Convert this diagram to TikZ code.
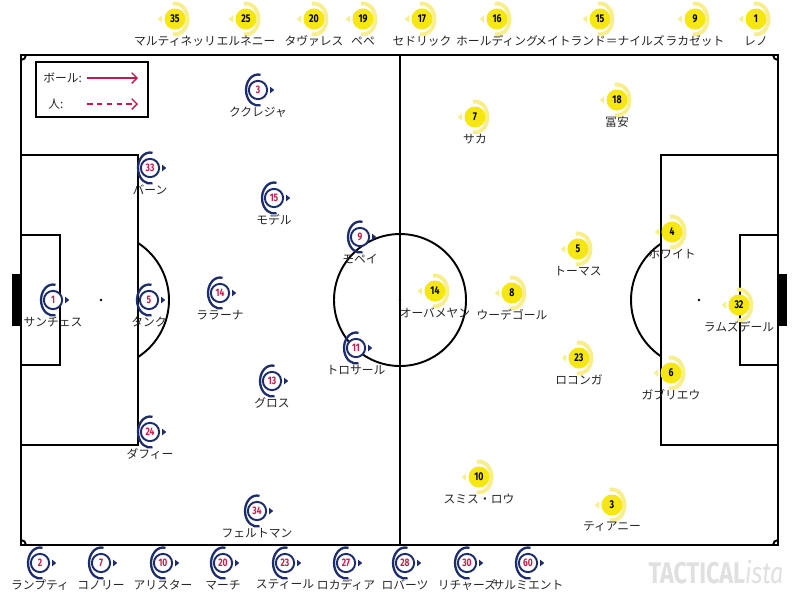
\documentclass[tikz,border=0pt]{standalone}
\usepackage{fontspec}
\setmainfont{Noto Sans CJK JP}
\newfontfamily\numfont[FakeStretch=0.78]{Fira Sans}
\usetikzlibrary{arrows.meta}
\definecolor{navyblue}{HTML}{1C2C6C}
\definecolor{crimson}{HTML}{C41E4A}
\definecolor{lemon}{HTML}{F6E612}
\definecolor{paleyellow}{HTML}{F8EF8C}
\definecolor{arrowred}{HTML}{C8164A}
\tikzset{
	btok/.style={circle, draw=navyblue, fill=white, line width=1.1pt, minimum size=10.4pt, inner sep=0pt, text=crimson, font=\numfont\bfseries\fontsize{6.2}{6}\selectfont},
	ytok/.style={circle, fill=lemon, minimum size=12pt, inner sep=0pt, text=black, font=\numfont\bfseries\fontsize{6.4}{6}\selectfont},
	pname/.style={font=\fontsize{6.7}{7}\selectfont, text=black!85, inner sep=0pt},
	pitchline/.style={line width=1.1pt, color=black}
}
\def\brighton(#1,#2)#3#4{%
	\node[btok] (b#3) at (#1,#2) {#3};
	\draw[navyblue, line width=1.3pt] (b#3.center) ++(78:12 and 15.5) arc (78:282:12 and 15.5);
	\fill[navyblue] (b#3.center) ++(12,-3.4) -- ++(4.2,3.4) -- ++(-4.2,3.4) -- cycle;
	\node[pname] (bn#3) at (#1,#2+22) {#4};
}
\def\arsenal(#1,#2)#3#4{%
	\draw[paleyellow, line width=2.2pt] (#1,#2) ++(100:12.5 and 15.5) arc (100:-100:12.5 and 15.5);
	\fill[paleyellow] (#1,#2) ++(-13,-3.6) -- ++(-4.2,3.6) -- ++(4.2,3.6) -- cycle;
	\node[ytok] (y#3) at (#1,#2) {#3};
	\node[pname] (yn#3) at (#1,#2+22) {#4};
}

\begin{document}
\begin{tikzpicture}[x=0.02cm, y=-0.02cm]
			%%%%% START %%%%%
			\useasboundingbox (0,0) rectangle (800,600);
			\fill[white] (0,0) rectangle (800,600);
			
			% pitch
			\draw[pitchline] (21,55) rectangle (778,545);
			\draw[pitchline] (400,55) -- (400,545);
			\draw[pitchline] (400,300) circle (66);
			\fill (400,300) circle (1.3);
			
			\draw[pitchline] (21,155) rectangle (138,445);
			\draw[pitchline] (21,235) rectangle (60,365);
			\fill (101,300) circle (1.3);
			\draw[pitchline] (101,300) ++(-57:68) arc (-57:57:68);
			\fill[black] (12,274) rectangle (21,326);
			
			\draw[pitchline] (661,155) rectangle (778,445);
			\draw[pitchline] (740,235) rectangle (778,365);
			\fill (699,300) circle (1.3);
			\draw[pitchline] (699,300) ++(124:68) arc (124:236:68);
			\fill[black] (778,274) rectangle (787,326);
			
			\draw[pitchline] (26,55) arc (0:90:5);
			\draw[pitchline] (773,55) arc (180:90:5);
			\draw[pitchline] (26,545) arc (0:-90:5);
			\draw[pitchline] (773,545) arc (180:270:5);
			
			% key
			\draw[pitchline] (36,62) rectangle (148,117);
			\node[pname, anchor=west] (ballkey) at (43,78) {ボール:};
			\coordinate (ballA) at (87,78);
			\coordinate (ballB) at (138,78);
			\draw[arrowred, line width=0.8pt, -{Straight Barb[length=3pt, width=6pt]}] (ballA) -- (ballB);
			\node[pname, anchor=west] (mankey) at (48,104) {人:};
			\coordinate (manA) at (87,104);
			\coordinate (manB) at (138,104);
			\draw[arrowred, line width=0.8pt, dash pattern=on 3.2pt off 2.4pt, -{Straight Barb[length=3pt, width=6pt]}] (manA) -- (manB);
			
			% brighton
			\brighton(258,90){3}{ククレジャ}
			\brighton(150,168){33}{バーン}
			\brighton(274,198){15}{モデル}
			\brighton(360,237){9}{モペイ}
			\brighton(53,300){1}{サンチェス}
			\brighton(149,300){5}{タンク}
			\brighton(220,293){14}{ララーナ}
			\brighton(356,348){11}{トロサール}
			\brighton(272,381){13}{グロス}
			\brighton(150,432){24}{ダフィー}
			\brighton(257,511){34}{フェルトマン}
			
			\brighton(40,563){2}{ランプティ}
			\brighton(101,563){7}{コノリー}
			\brighton(163,563){10}{アリスター}
			\brighton(223,563){20}{マーチ}
			\brighton(285,563){23}{スティール}
			\brighton(346,563){27}{ロカディア}
			\brighton(405,563){28}{ロバーツ}
			\brighton(467,563){30}{リチャーズ}
			\brighton(528,563){60}{サルミエント}
			
			% arsenal
			\arsenal(475,117){7}{サカ}
			\arsenal(617,100){18}{冨安}
			\arsenal(672,232){4}{ホワイト}
			\arsenal(578,249){5}{トーマス}
			\arsenal(435,291){14}{オーバメヤン}
			\arsenal(512,293){8}{ウーデゴール}
			\arsenal(739,305){32}{ラムズデール}
			\arsenal(579,358){23}{ロコンガ}
			\arsenal(671,373){6}{ガブリエウ}
			\arsenal(479,477){10}{スミス・ロウ}
			\arsenal(612,505){3}{ティアニー}
			
			\arsenal(175,19){35}{マルティネッリ}
			\arsenal(246,19){25}{エルネニー}
			\arsenal(314,19){20}{タヴァレス}
			\arsenal(363,19){19}{ペペ}
			\arsenal(422,19){17}{セドリック}
			\arsenal(497,19){16}{ホールディング}
			\arsenal(600,19){15}{メイトランド＝ナイルズ}
			\arsenal(695,19){9}{ラカゼット}
			\arsenal(756,19){1}{レノ}
			
			\node[font=\numfont\bfseries\fontsize{17}{17}\selectfont, text=black!12, inner sep=0pt] (logo) at (716,572) {TACTICAL{\mdseries\itshape ista}};
			%%%%% END %%%%%
\end{tikzpicture}
\end{document}
